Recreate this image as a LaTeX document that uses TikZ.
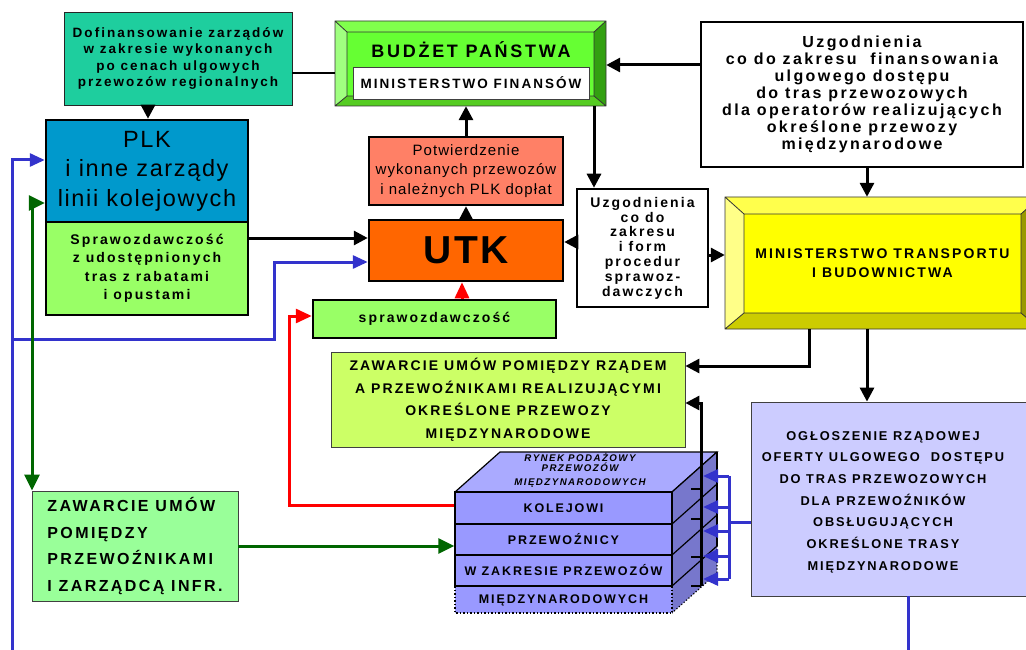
\documentclass[tikz,border=0pt]{standalone}
\usepackage{fontspec}
\setmainfont{Liberation Sans}[LetterSpace=7]
\newfontfamily\widebf{Liberation Sans}[LetterSpace=15]
\usetikzlibrary{arrows.meta}
\usetikzlibrary{calc}
\usepackage{xcolor}
\definecolor{dofcol}{HTML}{1ECE9E}
\definecolor{plkblue}{HTML}{0099CC}
\definecolor{sprgreen}{HTML}{99FF66}
\definecolor{salmon}{HTML}{FF8066}
\definecolor{utkorange}{HTML}{FF6600}
\definecolor{limecol}{HTML}{CCFF66}
\definecolor{lavcol}{HTML}{CCCCFF}
\definecolor{pgreen}{HTML}{99FF99}
\definecolor{budface}{HTML}{66FF33}
\definecolor{budtop}{HTML}{80FF4C}
\definecolor{budleft}{HTML}{A0FF80}
\definecolor{budright}{HTML}{33A011}
\definecolor{budbot}{HTML}{55CC22}
\definecolor{mtface}{HTML}{FFFF00}
\definecolor{mttop}{HTML}{FFFF4C}
\definecolor{mtleft}{HTML}{FFFF88}
\definecolor{mtright}{HTML}{999900}
\definecolor{mtbot}{HTML}{CCCC00}
\definecolor{rfront}{HTML}{9999FF}
\definecolor{rtop}{HTML}{AAAAFF}
\definecolor{rside}{HTML}{7777CC}
\definecolor{lineblue}{HTML}{3333CC}
\definecolor{linegreen}{HTML}{006600}

\begin{document}
\begin{tikzpicture}[x=1pt,y=-1pt,
 box/.style={draw, inner sep=0pt, align=center},
 thickbox/.style={box, line width=2.5pt},
 thinbox/.style={box, draw=black!75, line width=0.8pt},
 bf/.style={font=\widebf\bfseries\fontsize{#1}{#1}\selectfont},
 tip/.style={-{Triangle[length=14pt,width=14pt]}},
 conn/.style={tip, line width=3pt},
 blueln/.style={lineblue, line width=3pt},
 bluearr/.style={blueln, -{Triangle[length=15pt,width=13pt]}},
 greenarr/.style={linegreen, line width=3pt, -{Triangle[length=16pt,width=15pt]}},
 redarr/.style={red, line width=3pt, -{Triangle[length=16pt,width=14pt]}}]
\useasboundingbox (0,0) rectangle (1026,650);
\clip (0,0) rectangle (1026,650);

% bevelled boxes
\fill[budtop] (335,21) -- (606,21) -- (594,32) -- (347,32) -- cycle;
\fill[budleft] (335,21) -- (347,32) -- (347,96) -- (335,106) -- cycle;
\fill[budright] (606,21) -- (606,106) -- (594,96) -- (594,32) -- cycle;
\fill[budbot] (335,106) -- (347,96) -- (594,96) -- (606,106) -- cycle;
\fill[budface] (347,32) rectangle (594,96);
\draw[black!80, line width=0.8pt] (335,21) rectangle (606,106) (347,32) rectangle (594,96)
 (335,21) -- (347,32) (606,21) -- (594,32) (335,106) -- (347,96) (606,106) -- (594,96);

\fill[mttop] (725,197) -- (1040,197) -- (1021,214) -- (744,214) -- cycle;
\fill[mtleft] (725,197) -- (744,214) -- (744,313) -- (725,329) -- cycle;
\fill[mtright] (1040,197) -- (1040,329) -- (1021,313) -- (1021,214) -- cycle;
\fill[mtbot] (725,329) -- (744,313) -- (1021,313) -- (1040,329) -- cycle;
\fill[mtface] (744,214) rectangle (1021,313);
\draw[black!80, line width=0.8pt] (725,197) rectangle (1040,329) (744,214) rectangle (1021,313)
 (725,197) -- (744,214) (1040,197) -- (1021,214) (725,329) -- (744,313) (1040,329) -- (1021,313);

% boxes
\node[thinbox, fill=dofcol, draw=black!85, minimum width=228pt, minimum height=93pt,
 font=\widebf\bfseries\fontsize{13.5}{16.6}\selectfont] (dofin) at (178,58.5)
 {Dofinansowanie zarządów\\w zakresie wykonanych\\po cenach ulgowych\\przewozów regionalnych};
\node[inner sep=0pt, minimum width=271pt, minimum height=85pt] (budzet) at (470.5,63.5) {};
\node[bf=18, anchor=base] (budtxt) at (471,58) {BUDŻET PAŃSTWA};
\node[thinbox, fill=white, minimum width=236pt, minimum height=32pt, bf=13.5] (minfin) at (471,83) {MINISTERSTWO FINANSÓW};
\node[thickbox, fill=plkblue, minimum width=202pt, minimum height=102pt,
 font=\fontsize{23.5}{29.5}\selectfont] (plk) at (147,171) {PLK\\i inne zarządy\\linii kolejowych};
\node[thickbox, fill=sprgreen, minimum width=202pt, minimum height=93pt,
 font=\widebf\bfseries\fontsize{14}{18.4}\selectfont] (sprawplk) at (147,268.5)
 {Sprawozdawczość\\z udostępnionych\\tras z rabatami\\i opustami};
\node[thickbox, fill=salmon, minimum width=194pt, minimum height=68pt,
 font=\fontsize{15}{19.6}\selectfont] (potw) at (466,171)
 {Potwierdzenie\\wykonanych przewozów\\i należnych PLK dopłat};
\node[thickbox, fill=utkorange, minimum width=194pt, minimum height=61pt,
 font=\bfseries\fontsize{39}{39}\selectfont] (utk) at (466,250.5) {UTK};
\node[thickbox, fill=sprgreen, minimum width=243pt, minimum height=38pt, bf=14] (spraw) at (434.5,319) {sprawozdawczość};
\node[thickbox, fill=white, minimum width=322pt, minimum height=145pt,
 font=\widebf\bfseries\fontsize{16}{17}\selectfont] (uzgfin) at (862,94.5)
 {Uzgodnienia\\co do zakresu\ \ finansowania\\ulgowego dostępu\\do tras przewozowych\\dla operatorów realizujących\\określone przewozy\\międzynarodowe};
\node[thickbox, fill=white, minimum width=131pt, minimum height=118pt,
 font=\widebf\bfseries\fontsize{14}{14.8}\selectfont] (uzgsm) at (642.5,248)
 {Uzgodnienia\\co do\\zakresu\\i form\\procedur\\sprawoz-\\dawczych};
\node[inner sep=0pt, minimum width=315pt, minimum height=132pt, align=center,
 font=\widebf\bfseries\fontsize{14}{19}\selectfont] (mt) at (882.5,263)
 {MINISTERSTWO TRANSPORTU\\I BUDOWNICTWA};
\node[thinbox, fill=limecol, minimum width=354pt, minimum height=95pt,
 font=\widebf\bfseries\fontsize{14}{22.5}\selectfont] (zawrz) at (508,399.5)
 {ZAWARCIE UMÓW POMIĘDZY RZĄDEM\\A PRZEWOŹNIKAMI REALIZUJĄCYMI\\OKREŚLONE PRZEWOZY\\MIĘDZYNARODOWE};
\node[thinbox, fill=lavcol, minimum width=289pt, minimum height=194pt] (oglobox) at (895.5,499) {};
\node[align=center, inner sep=0pt, font=\widebf\bfseries\fontsize{12.8}{21.7}\selectfont] (oglotxt) at (883,502)
 {OGŁOSZENIE RZĄDOWEJ\\OFERTY ULGOWEGO\ \ DOSTĘPU\\DO TRAS PRZEWOZOWYCH\\DLA PRZEWOŹNIKÓW\\OBSŁUGUJĄCYCH\\OKREŚLONE TRASY\\MIĘDZYNARODOWE};
\node[thinbox, fill=pgreen, minimum width=206pt, minimum height=110pt, align=left,
 font=\widebf\bfseries\fontsize{16}{26.5}\selectfont] (zawprz) at (135,546)
 {ZAWARCIE UMÓW\\POMIĘDZY\\PRZEWOŹNIKAMI\\I ZARZĄDCĄ INFR.};

% rynek box
\fill[rtop] (455,492) -- (500,452) -- (717,452) -- (672,492) -- cycle;
\draw[line width=1.2pt] (455,492) -- (500,452) -- (717,452) -- (672,492);
\fill[rside] (672,492) -- (717,452) -- (717,573) -- (672,613) -- cycle;
\draw[line width=1.2pt] (717,452) -- (717,546);
\draw[line width=1.2pt, dotted] (717,546) -- (717,573) -- (672,613);
\node[box, fill=rfront, line width=1.5pt, minimum width=217pt, minimum height=32pt, bf=12.5] (kolej) at (563.5,508) {KOLEJOWI};
\node[box, fill=rfront, line width=1.5pt, minimum width=217pt, minimum height=31pt, bf=12.5] (przew) at (563.5,539.5) {PRZEWOŹNICY};
\node[box, fill=rfront, line width=1.5pt, minimum width=217pt, minimum height=31pt, bf=12.5] (wzakr) at (563.5,570.5) {W ZAKRESIE PRZEWOZÓW};
\fill[rfront] (455,586) rectangle (672,613);
\draw[line width=1.5pt, dotted] (455,586) -- (455,613) -- (672,613) -- (672,586);
\node[bf=12.5] (miedz) at (563.5,600) {MIĘDZYNARODOWYCH};
\draw[line width=1.5pt] (455,586) -- (672,586);
\foreach \y in {492,524,555,586} \draw[line width=1.2pt] (672,\y) -- ++(45,-40);
\node[align=center, inner sep=0pt, font=\widebf\bfseries\itshape\fontsize{9.7}{10}\selectfont] (rynek) at (580,470)
 {RYNEK PODAŻOWY\\PRZEWOZÓW\\[4pt]MIĘDZYNARODOWYCH};

% black connectors
\draw[line width=2pt] (dofin.east |- 0,73) -- (budzet.west |- 0,73);
\draw[conn] (148,0 |- dofin.south) -- (148,0 |- plk.north);
\draw[conn] (potw.north) -- (potw.north |- budzet.south);
\draw[tip, line width=2.5pt] (utk.north) -- (potw.south);
\draw[conn] (sprawplk.east |- 0,238) -- (utk.west |- 0,238);
\draw[conn] (uzgfin.west |- 0,65) -- (budzet.east |- 0,65);
\draw[conn] (867,0 |- uzgfin.south) -- (867,0 |- mt.north);
\draw[conn] (594,0 |- budzet.south) -- (594,0 |- uzgsm.north);
\draw[conn] (uzgsm.west |- 0,242) -- (utk.east |- 0,242);
\draw[conn] (uzgsm.east |- 0,255) -- (mt.west |- 0,255);
\draw[conn] (809,0 |- mt.south) |- (zawrz.east |- 0,366);
\draw[conn] (867,0 |- mt.south) -- (867,0 |- oglobox.north);
\coordinate (stem) at (701,586);
\draw[conn] (stem) -- (701,403) -- (zawrz.east |- 0,403);
\foreach \y in {489,519,557,586} \draw[line width=2.5pt] (691,\y) -- (701,\y);

% red
\draw[redarr] (462,0 |- spraw.north) -- (462,0 |- utk.south);
\draw[redarr] (kolej.west |- 0,505) -- (289,505) -- (289,316) -- (spraw.west |- 0,316);

% blue
\draw[blueln] (oglobox.west |- 0,522) -- (729,522);
\draw[blueln] (729,476) -- (729,579);
\foreach \y in {476,507,531,556,579} \draw[bluearr] (729,\y) -- (703,\y);
\draw[bluearr] (12,650) -- (12,160) -- (plk.west |- 0,160);
\draw[bluearr] (12,339) -- (274,339) -- (274,262) -- (utk.west |- 0,262);
\draw[blueln] (908,0 |- oglobox.south) -- (908,650);

% green
\draw[greenarr, {Triangle[length=16pt,width=15pt]}-{Triangle[length=16pt,width=15pt]}] (plk.west |- 0,203) -- (32,203) -- (32,0 |- zawprz.north);
\draw[greenarr] (zawprz.east) -- (przew.west |- zawprz.east);
\end{tikzpicture}
\end{document}
